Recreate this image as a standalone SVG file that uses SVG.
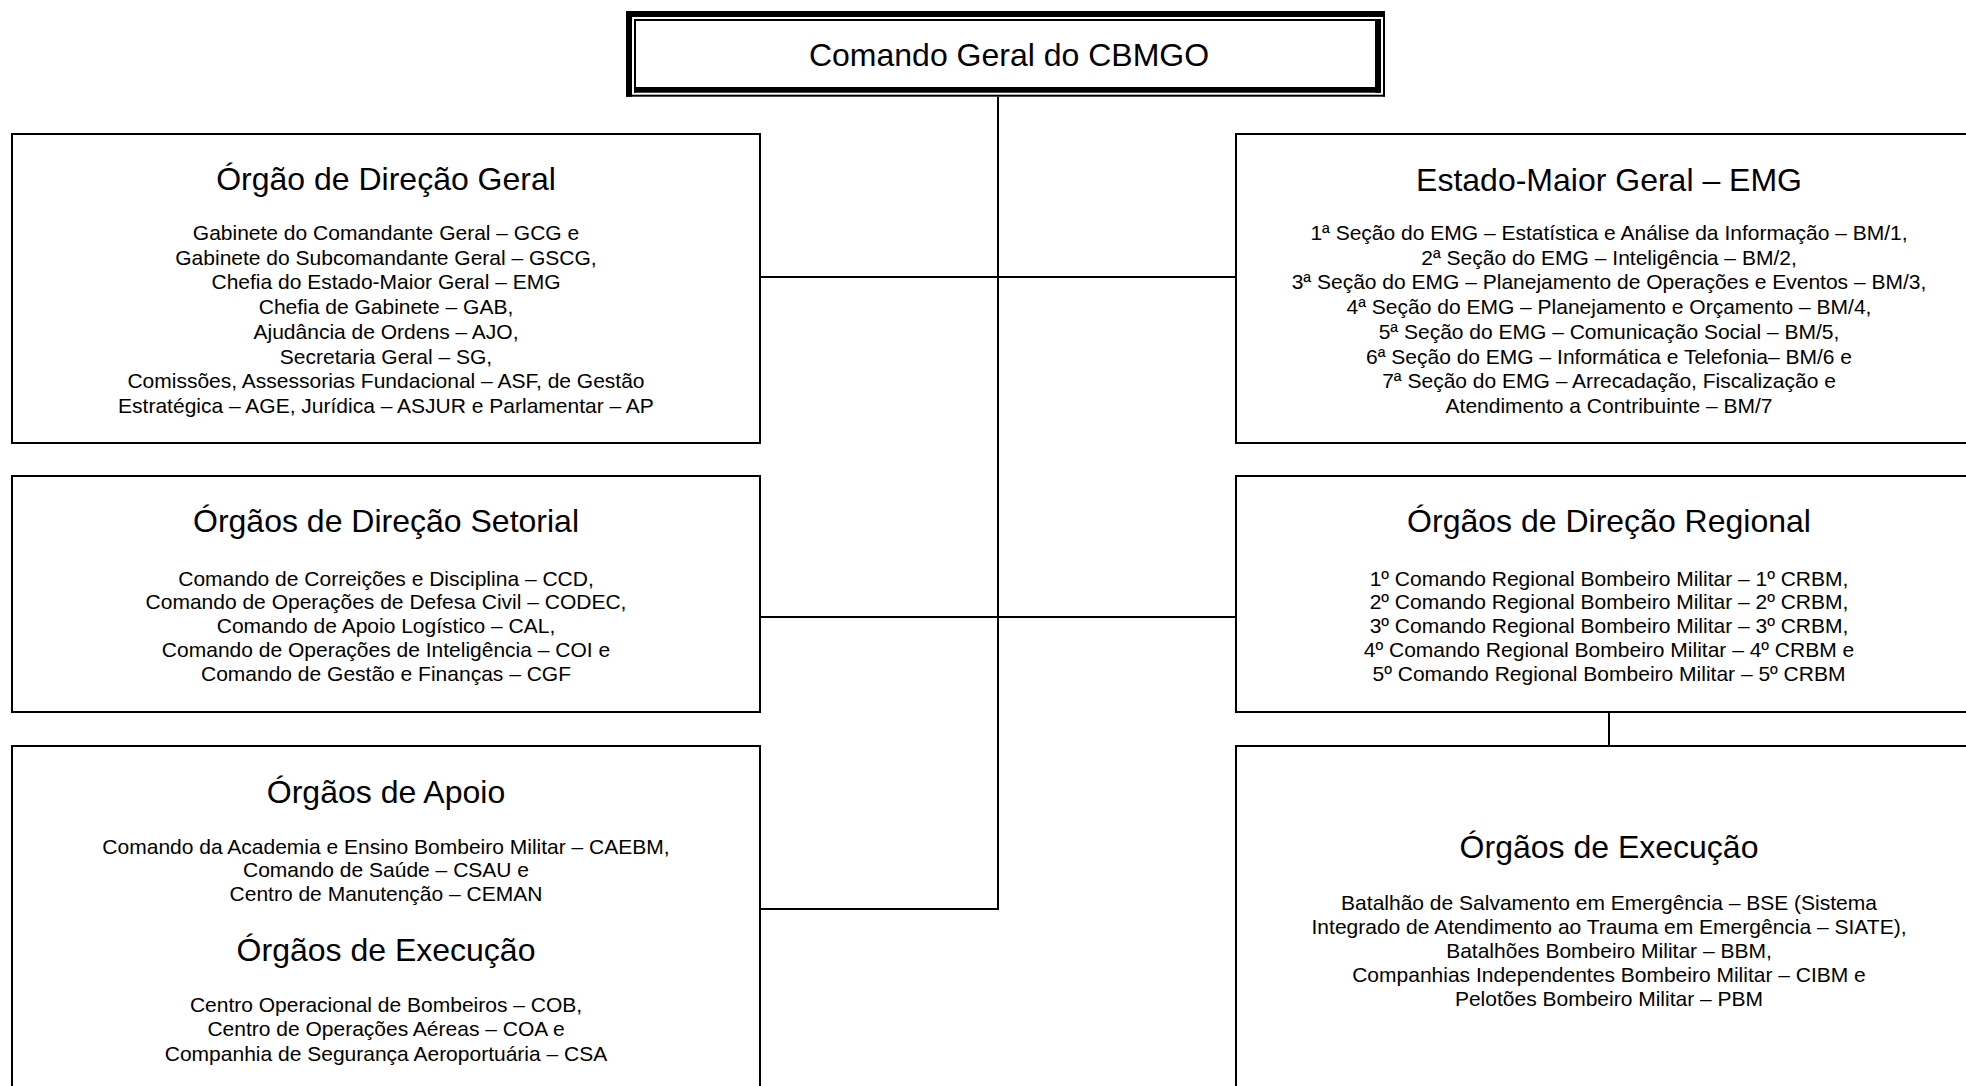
<svg xmlns="http://www.w3.org/2000/svg" width="1966" height="1086" viewBox="0 0 1966 1086">
<style>
.box{fill:#fff;stroke:#000;stroke-width:2}
.conn{stroke:#000;stroke-width:2;fill:none}
.bd{fill:#000}
text{font-family:"Liberation Sans",Arial,sans-serif;fill:#000;text-anchor:middle}
.t{font-size:32px}
.b{font-size:21px}
</style>
<rect width="1966" height="1086" fill="#fff"/>
<g id="connectors">
<line class="conn" x1="998" y1="96" x2="998" y2="910"/>
<line class="conn" x1="760" y1="277" x2="1236" y2="277"/>
<line class="conn" x1="760" y1="617" x2="1236" y2="617"/>
<line class="conn" x1="760" y1="909" x2="998" y2="909"/>
<line class="conn" x1="1609" y1="712" x2="1609" y2="746"/>
</g>
<g id="comando-geral">
<rect x="626" y="11" width="759" height="85.7" fill="#fff"/>
<rect class="bd" x="626" y="11" width="759" height="6"/>
<rect class="bd" x="626" y="11" width="6" height="85.7"/>
<rect class="bd" x="626" y="94.7" width="759" height="2"/>
<rect class="bd" x="1383" y="11" width="2" height="85.7"/>
<rect class="bd" x="634" y="19" width="747" height="2"/>
<rect class="bd" x="634" y="19" width="2" height="73.7"/>
<rect class="bd" x="634" y="87" width="747" height="5.7"/>
<rect class="bd" x="1375" y="19" width="6" height="73.7"/>
<text class="t" x="1009" y="66">Comando Geral do CBMGO</text>
</g>
<g id="direcao-geral">
<rect class="box" x="12" y="134" width="748" height="309"/>
<text class="t" x="386" y="190">Órgão de Direção Geral</text>
<text class="b" x="386" y="240">Gabinete do Comandante Geral – GCG e</text>
<text class="b" x="386" y="264.7">Gabinete do Subcomandante Geral – GSCG,</text>
<text class="b" x="386" y="289.4">Chefia do Estado-Maior Geral – EMG</text>
<text class="b" x="386" y="314.1">Chefia de Gabinete – GAB,</text>
<text class="b" x="386" y="338.8">Ajudância de Ordens – AJO,</text>
<text class="b" x="386" y="363.5">Secretaria Geral – SG,</text>
<text class="b" x="386" y="388.2">Comissões, Assessorias Fundacional – ASF, de Gestão</text>
<text class="b" x="386" y="412.9">Estratégica – AGE, Jurídica – ASJUR e Parlamentar – AP</text>
</g>
<g id="direcao-setorial">
<rect class="box" x="12" y="476" width="748" height="236"/>
<text class="t" x="386" y="531.5">Órgãos de Direção Setorial</text>
<text class="b" x="386" y="585.5">Comando de Correições e Disciplina – CCD,</text>
<text class="b" x="386" y="609.3">Comando de Operações de Defesa Civil – CODEC,</text>
<text class="b" x="386" y="633.1">Comando de Apoio Logístico – CAL,</text>
<text class="b" x="386" y="656.9">Comando de Operações de Inteligência – COI e</text>
<text class="b" x="386" y="680.7">Comando de Gestão e Finanças – CGF</text>
</g>
<g id="apoio-execucao">
<rect class="box" x="12" y="746" width="748" height="360"/>
<text class="t" x="386" y="803">Órgãos de Apoio</text>
<text class="b" x="386" y="853.5">Comando da Academia e Ensino Bombeiro Militar – CAEBM,</text>
<text class="b" x="386" y="877.3">Comando de Saúde – CSAU e</text>
<text class="b" x="386" y="901.1">Centro de Manutenção – CEMAN</text>
<text class="t" x="386" y="961">Órgãos de Execução</text>
<text class="b" x="386" y="1012">Centro Operacional de Bombeiros – COB,</text>
<text class="b" x="386" y="1036">Centro de Operações Aéreas – COA e</text>
<text class="b" x="386" y="1060.5">Companhia de Segurança Aeroportuária – CSA</text>
</g>
<g id="estado-maior">
<rect class="box" x="1236" y="134" width="748" height="309"/>
<text class="t" x="1609" y="190.5">Estado-Maior Geral – EMG</text>
<text class="b" x="1609" y="240">1ª Seção do EMG – Estatística e Análise da Informação – BM/1,</text>
<text class="b" x="1609" y="264.7">2ª Seção do EMG – Inteligência – BM/2,</text>
<text class="b" x="1609" y="289.4">3ª Seção do EMG – Planejamento de Operações e Eventos – BM/3,</text>
<text class="b" x="1609" y="314.1">4ª Seção do EMG – Planejamento e Orçamento – BM/4,</text>
<text class="b" x="1609" y="338.8">5ª Seção do EMG – Comunicação Social – BM/5,</text>
<text class="b" x="1609" y="363.5">6ª Seção do EMG – Informática e Telefonia– BM/6 e</text>
<text class="b" x="1609" y="388.2">7ª Seção do EMG – Arrecadação, Fiscalização e</text>
<text class="b" x="1609" y="412.9">Atendimento a Contribuinte – BM/7</text>
</g>
<g id="direcao-regional">
<rect class="box" x="1236" y="476" width="748" height="236"/>
<text class="t" x="1609" y="531.5">Órgãos de Direção Regional</text>
<text class="b" x="1609" y="585.5">1º Comando Regional Bombeiro Militar – 1º CRBM,</text>
<text class="b" x="1609" y="609.3">2º Comando Regional Bombeiro Militar – 2º CRBM,</text>
<text class="b" x="1609" y="633.1">3º Comando Regional Bombeiro Militar – 3º CRBM,</text>
<text class="b" x="1609" y="656.9">4º Comando Regional Bombeiro Militar – 4º CRBM e</text>
<text class="b" x="1609" y="680.7">5º Comando Regional Bombeiro Militar – 5º CRBM</text>
</g>
<g id="execucao">
<rect class="box" x="1236" y="746" width="748" height="360"/>
<text class="t" x="1609" y="858">Órgãos de Execução</text>
<text class="b" x="1609" y="909.5">Batalhão de Salvamento em Emergência – BSE (Sistema</text>
<text class="b" x="1609" y="933.6">Integrado de Atendimento ao Trauma em Emergência – SIATE),</text>
<text class="b" x="1609" y="957.7">Batalhões Bombeiro Militar – BBM,</text>
<text class="b" x="1609" y="981.8">Companhias Independentes Bombeiro Militar – CIBM e</text>
<text class="b" x="1609" y="1006">Pelotões Bombeiro Militar – PBM</text>
</g>
</svg>
